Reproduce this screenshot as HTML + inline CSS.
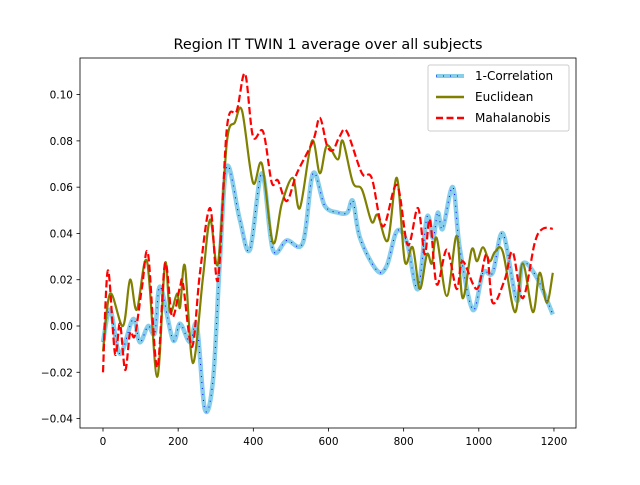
<!DOCTYPE html>
<html><head><meta charset="utf-8"><style>
body{margin:0;background:#fff}
svg text{font-family:"DejaVu Sans","Liberation Sans",sans-serif;fill:#000}
</style></head><body>
<svg width="640" height="480" viewBox="0 0 640 480" id="chart">
<rect width="640" height="480" fill="#fff"/>
<text x="328" y="49" font-size="14.4" text-anchor="middle">Region IT TWIN 1 average over all subjects</text>
<defs><clipPath id="pc"><rect x="80" y="58" width="496" height="370"/></clipPath></defs>
<g id="series" clip-path="url(#pc)"></g>
<g id="axes"></g>
<g>
<rect x="428" y="65" width="141" height="66" rx="2" fill="#fff" fill-opacity="0.8" stroke="#ccc"/>
<g><line x1="436" y1="76" x2="464" y2="76" stroke="#87ceeb" stroke-width="4"/><line x1="436" y1="76" x2="464" y2="76" stroke="#0000ff" stroke-width="1" stroke-dasharray="1 6"/><text x="475" y="80" font-size="12">1-Correlation</text></g>
<g><line x1="436" y1="97" x2="464" y2="97" stroke="#808000" stroke-width="2.5"/><text x="475" y="101" font-size="12">Euclidean</text></g>
<g><line x1="436" y1="118" x2="464" y2="118" stroke="#ff0000" stroke-width="2.5" stroke-dasharray="7 3.5"/><text x="475" y="122" font-size="12">Mahalanobis</text></g>
</g>
</svg>
<script>
const xTicks=[0,200,400,600,800,1000,1200];
const yTicks=[-0.04,-0.02,0.00,0.02,0.04,0.06,0.08,0.10];
const yTickLabels=["−0.04","−0.02","0.00","0.02","0.04","0.06","0.08","0.10"];
const corrT=[0,19,45,80,98,120,138,152,186,205,231,250,271,293,311,330,364,391,423,452,489,532,559,590,625,650,665,684,729,755,782,809,838,862,878,891,904,931,949,984,1011,1037,1064,1101,1117,1154,1197];
const corrV=[-0.007,0.007,-0.012,0.003,-0.007,0.0,-0.003,0.017,-0.006,0.001,-0.007,0,-0.036,-0.023,0.028,0.069,0.046,0.033,0.066,0.033,0.037,0.036,0.066,0.052,0.049,0.049,0.054,0.038,0.024,0.026,0.041,0.036,0.016,0.047,0.038,0.049,0.042,0.06,0.034,0.007,0.023,0.023,0.040,0.011,0.027,0.021,0.005];
const eucT=[0,19,53,72,90,117,144,165,178,197,205,218,239,266,285,306,330,351,370,399,423,452,476,505,524,556,577,596,625,638,665,689,715,731,758,782,803,824,843,862,875,888,915,941,957,981,995,1011,1029,1043,1064,1096,1117,1144,1162,1181,1197];
const eucV=[-0.011,0.014,0,0.02,0.007,0.028,-0.022,0.027,0.006,0.014,0.008,0.026,-0.016,0.021,0.046,0.027,0.080,0.088,0.093,0.062,0.070,0.036,0.053,0.064,0.051,0.080,0.066,0.078,0.072,0.080,0.062,0.059,0.045,0.048,0.037,0.064,0.028,0.034,0.016,0.031,0.027,0.038,0.013,0.039,0.012,0.033,0.028,0.034,0.028,0.032,0.032,0.006,0.027,0.006,0.023,0.010,0.023];
const mahT=[0,13,32,45,59,72,85,104,120,144,165,184,205,213,237,258,285,306,330,356,378,399,426,449,465,489,516,559,577,596,612,630,649,689,715,745,782,811,838,856,870,888,915,941,957,995,1021,1037,1069,1090,1117,1149,1170,1197];
const mahV=[-0.020,0.024,-0.012,0.001,-0.019,-0.003,-0.004,0.017,0.031,-0.018,0.027,0.004,0.017,0.018,-0.009,0.023,0.051,0.020,0.086,0.093,0.109,0.082,0.084,0.062,0.063,0.054,0.066,0.080,0.090,0.078,0.076,0.082,0.084,0.066,0.064,0.043,0.061,0.035,0.051,0.031,0.046,0.018,0.033,0.016,0.028,0.016,0.031,0.010,0.020,0.032,0.012,0.036,0.042,0.042];
const NS='http://www.w3.org/2000/svg';
const X=t=>103+t*0.3758, Y=v=>326-v*2314;
function pathD(ts,vs){const p=ts.map((t,i)=>[X(t),Y(vs[i])]);let d='M'+p[0][0]+','+p[0][1];
for(let i=0;i<p.length-1;i++){const a=p[Math.max(0,i-1)],b=p[i],c=p[i+1],e=p[Math.min(p.length-1,i+2)];
const c1=[b[0]+(c[0]-a[0])/6,b[1]+(c[1]-a[1])/6],c2=[c[0]-(e[0]-b[0])/6,c[1]-(e[1]-b[1])/6];
d+=' C'+c1[0].toFixed(2)+','+c1[1].toFixed(2)+' '+c2[0].toFixed(2)+','+c2[1].toFixed(2)+' '+c[0].toFixed(2)+','+c[1].toFixed(2);}return d;}
const sg=document.getElementById('series');
function addPath(d,stroke,w,dash,name){const el=document.createElementNS(NS,'path');el.setAttribute('d',d);el.setAttribute('fill','none');el.setAttribute('stroke',stroke);el.setAttribute('stroke-width',w);if(dash)el.setAttribute('stroke-dasharray',dash);el.setAttribute('stroke-linejoin','round');


sg.appendChild(el);}
const dc=pathD(corrT,corrV);
addPath(dc,'#87ceeb',4.5,null,'correlation-line');
addPath(dc,'#0000ff',1,'1 5','correlation-markers');
addPath(pathD(eucT,eucV),'#808000',2.2,null,'euclidean-line');
addPath(pathD(mahT,mahV),'#ff0000',2.2,'7.4 3.2','mahalanobis-line');
const ax=document.getElementById('axes');
function mk(tag,attrs,txt){const el=document.createElementNS(NS,tag);for(const k in attrs)el.setAttribute(k,attrs[k]);if(txt!==undefined)el.textContent=txt;ax.appendChild(el);return el;}
const fr=mk('rect',{x:80,y:58,width:496,height:370,fill:'none',stroke:'#000','stroke-width':0.8});


xTicks.forEach(t=>{const l=mk('line',{x1:X(t),x2:X(t),y1:428,y2:431.5,stroke:'#000','stroke-width':0.8});


const tx=mk('text',{x:X(t),y:445,'font-size':10.5,'text-anchor':'middle'},String(t));

});
yTicks.forEach((v,i)=>{const l=mk('line',{x1:76.5,x2:80,y1:Y(v),y2:Y(v),stroke:'#000','stroke-width':0.8});


const tx=mk('text',{x:73,y:Y(v)+4,'font-size':10.5,'text-anchor':'end'},yTickLabels[i]);

});
</script>
</body></html>
